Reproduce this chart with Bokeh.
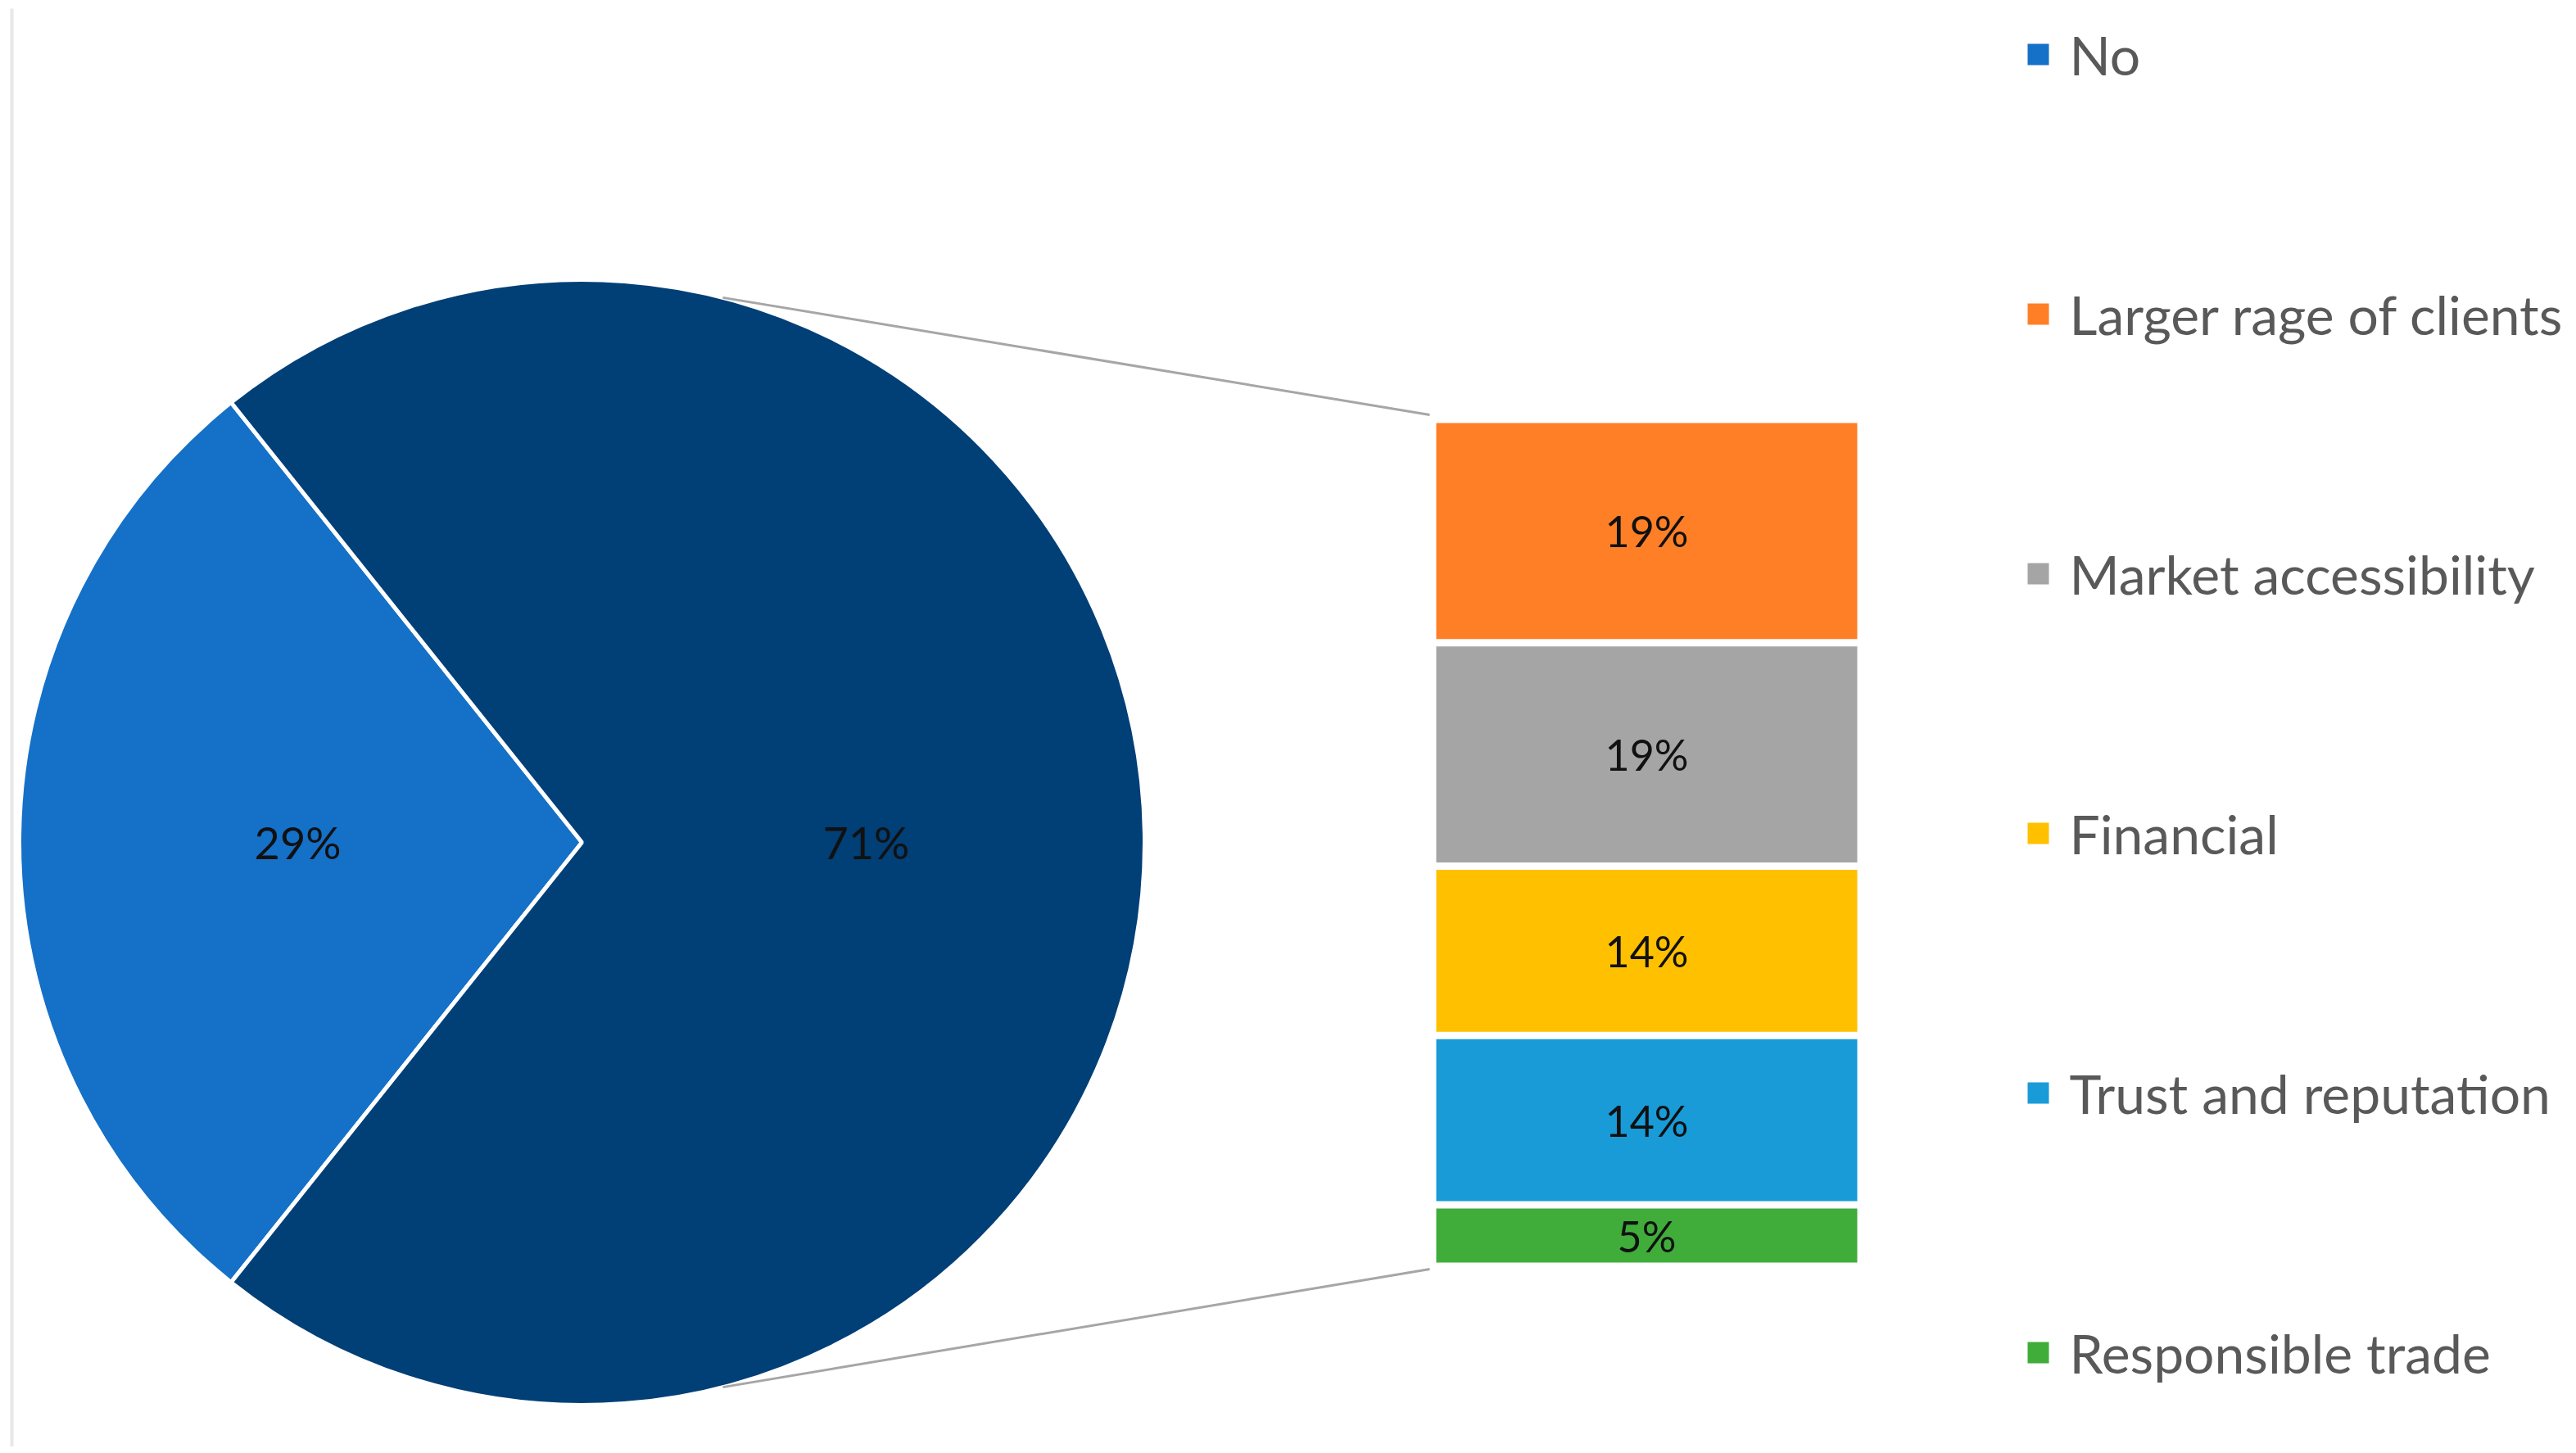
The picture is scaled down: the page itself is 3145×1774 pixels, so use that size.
import math
from bokeh.plotting import figure
from bokeh.models import Range1d
from bokeh.core.properties import value
from bokeh.embed import file_html
from bokeh.resources import INLINE

# ---------------- data ----------------
pie_labels = ["No", "Yes (other)"]
pie_values = [28.57, 71.43]
pie_colors = ["#1570C8", "#013F77"]

bar_labels = ["Larger rage of clients", "Market accessibility", "Financial",
              "Trust and reputation", "Responsible trade"]
bar_values = [19.05, 19.05, 14.29, 14.29, 4.76]
bar_colors = ["#FF7F27", "#A5A5A5", "#FFC000", "#199BD8", "#40AD3A"]

legend_labels = ["No"] + bar_labels
legend_colors = [pie_colors[0]] + bar_colors

# ---------------- layout (screen px) ----------------
W, H = 3145, 1774
FONT = "Lato"

def Y(sy):
    return H - sy  # screen y -> data y (y up)

cx, cy, R = 710, 1028, 687
bar_left, bar_right, bar_top, bar_bottom, gap = 1753, 2267, 516, 1541, 9
conn_angle = 75.5
leg_x_mark, leg_x_text, leg_y0, leg_dy, leg_size = 2488, 2526, 66, 317, 26

p = figure(width=W - 8, height=H - 8, x_range=Range1d(0, W - 8), y_range=Range1d(8, H),
           output_backend="svg", toolbar_location=None, min_border=0,
           outline_line_color=None, background_fill_color="white")
p.axis.visible = False
p.grid.visible = False

# faint chart border on the left
p.line([14, 14], [Y(10), Y(1768)], line_color="#E8E8E8", line_width=4)

# ---------------- pie ----------------
half = pie_values[0] / 100 * 360 / 2
starts = [math.radians(a) for a in (180 - half, 180 + half)]
ends = [math.radians(a) for a in (180 + half, 180 - half + 360)]
p.wedge(x=[cx, cx], y=[Y(cy), Y(cy)], radius=R, start_angle=starts, end_angle=ends,
        fill_color=pie_colors, line_color="white", line_width=5)

mids = [180, 0]
for m, v in zip(mids, pie_values):
    lx = cx + 0.505 * R * math.cos(math.radians(m))
    ly = Y(cy) + 0.505 * R * math.sin(math.radians(m))
    p.text(x=[lx], y=[ly], text=[f"{round(v)}%"], text_font=value(FONT),
           text_font_size="54px", text_color="#111111", text_align="center",
           text_baseline="middle")

# ---------------- bar of pie ----------------
total = sum(bar_values)
unit = (bar_bottom - bar_top - gap * (len(bar_values) - 1)) / total
tops, bottoms = [], []
cur = bar_top
for v in bar_values:
    tops.append(Y(cur))
    bottoms.append(Y(cur + v * unit))
    cur += v * unit + gap
p.quad(left=bar_left, right=bar_right, top=tops, bottom=bottoms,
       fill_color=bar_colors, line_color=None)
for t, b, v in zip(tops, bottoms, bar_values):
    p.text(x=[(bar_left + bar_right) / 2], y=[(t + b) / 2], text=[f"{round(v)}%"],
           text_font=value(FONT), text_font_size="52px", text_color="#111111",
           text_align="center", text_baseline="middle")

# connector lines
for sgn, end_y in [(1, Y(bar_top) + 10), (-1, Y(bar_bottom) - 8)]:
    a = math.radians(sgn * conn_angle)
    sx = cx + R * math.cos(a)
    sy = Y(cy) + R * math.sin(a)
    p.line([sx, bar_left - 8], [sy, end_y], line_color="#A6A6A6", line_width=3)

# ---------------- legend ----------------
for i, (lab, col) in enumerate(zip(legend_labels, legend_colors)):
    yy = Y(leg_y0 + i * leg_dy)
    p.rect(x=[leg_x_mark], y=[yy], width=leg_size, height=leg_size,
           fill_color=col, line_color=None)
    p.text(x=[leg_x_text], y=[yy], text=[lab], text_font=value(FONT),
           text_font_size="66px", text_color="#595959", text_align="left",
           text_baseline="middle")

open("out.html", "w").write(file_html(p, INLINE))
